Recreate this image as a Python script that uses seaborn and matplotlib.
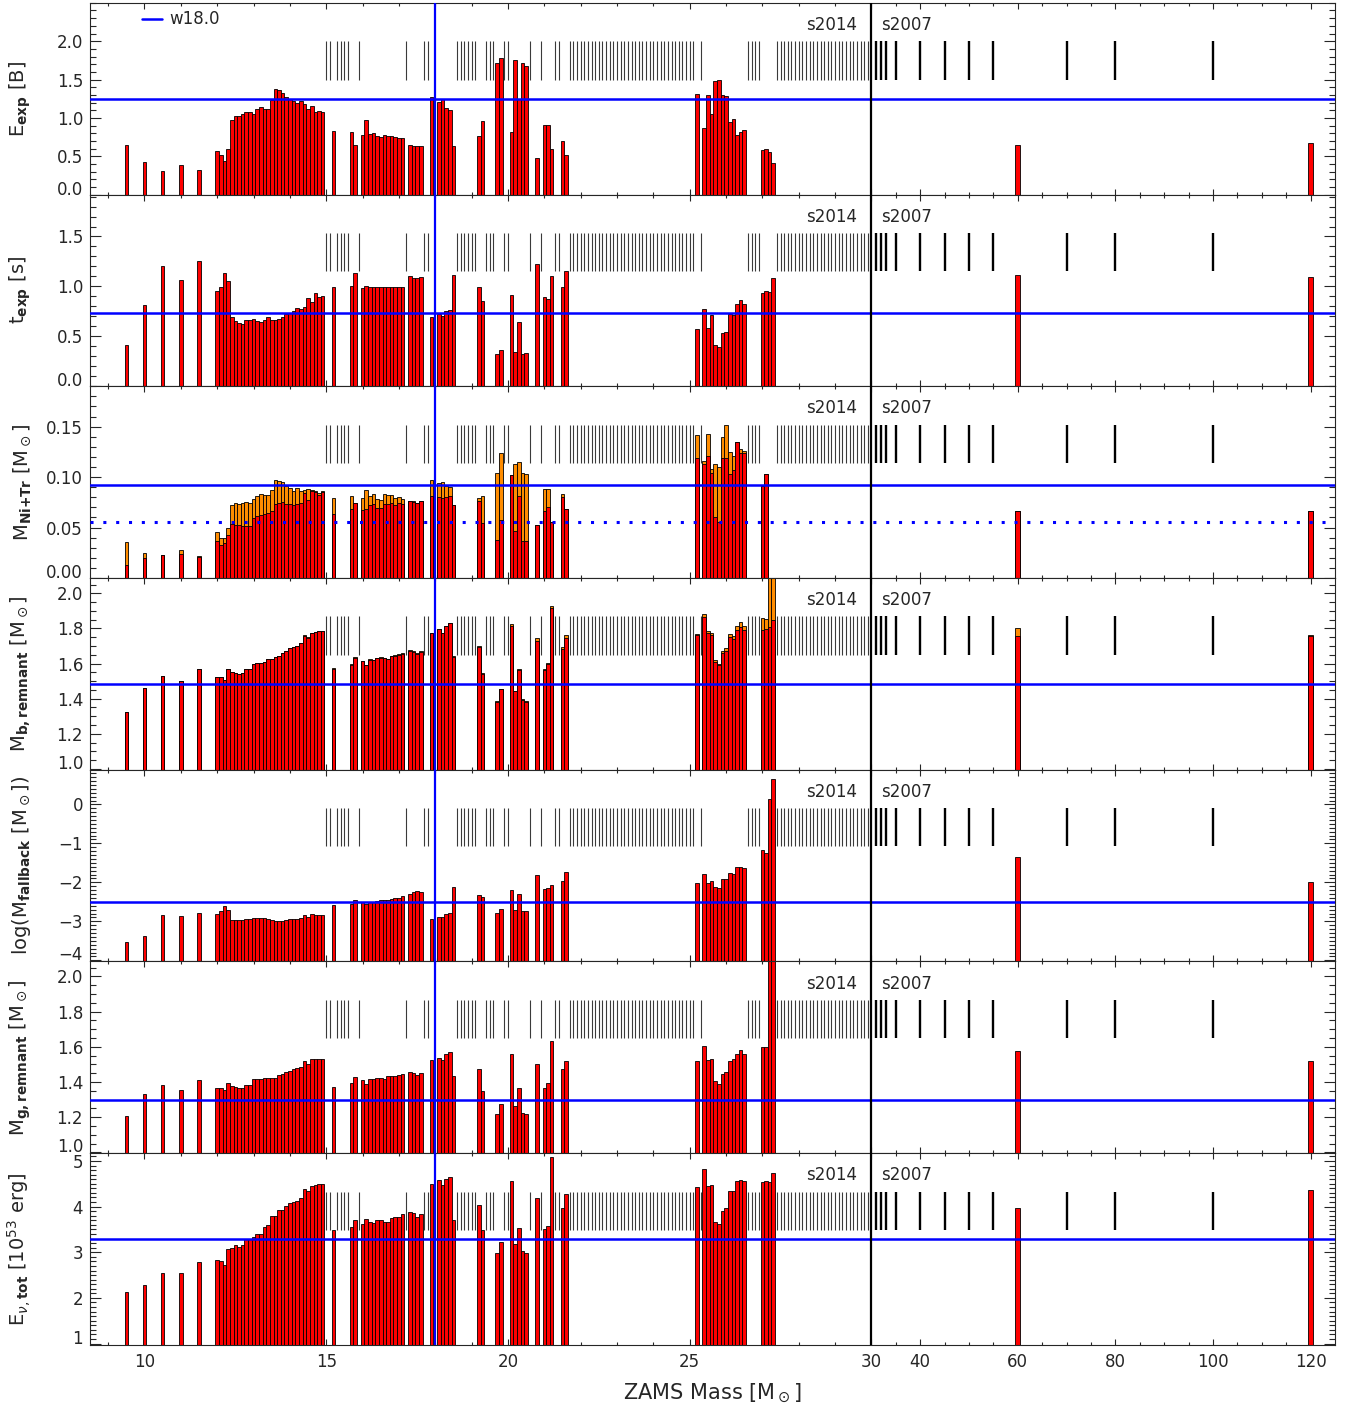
import numpy as np
import matplotlib
matplotlib.use('Agg')
import matplotlib.pyplot as plt
from matplotlib.ticker import FixedLocator, FormatStrFormatter, ScalarFormatter
import seaborn as sns

# exploding models (s2014 + low-mass + s2007)
mass = [9.5, 10.0, 10.5, 11.0, 11.5,
        12.0, 12.1, 12.2, 12.3, 12.4, 12.5, 12.6, 12.7, 12.8, 12.9,
        13.0, 13.1, 13.2, 13.3, 13.4, 13.5, 13.6, 13.7, 13.8, 13.9,
        14.0, 14.1, 14.2, 14.3, 14.4, 14.5, 14.6, 14.7, 14.8, 14.9,
        15.2, 15.7, 15.8,
        16.0, 16.1, 16.2, 16.3, 16.4, 16.5, 16.6, 16.7, 16.8, 16.9, 17.0, 17.1,
        17.3, 17.4, 17.5, 17.6,
        17.9, 18.1, 18.2, 18.3, 18.4, 18.5,
        19.2, 19.3, 19.7, 19.8,
        20.1, 20.2, 20.3, 20.4, 20.5, 20.8, 21.0, 21.1, 21.2, 21.5, 21.6,
        25.2, 25.4, 25.5, 25.6, 25.7, 25.8, 25.9, 26.0, 26.1, 26.2, 26.3, 26.4, 26.5,
        27.0, 27.1, 27.2, 27.3,
        60.0, 120.0]

e_exp = [0.65, 0.42, 0.31, 0.38, 0.32,
         0.57, 0.52, 0.44, 0.60, 0.97, 1.03, 1.02, 1.05, 1.08, 1.07,
         1.05, 1.11, 1.14, 1.12, 1.12, 1.23, 1.38, 1.36, 1.33, 1.27,
         1.24, 1.22, 1.20, 1.22, 1.18, 1.12, 1.16, 1.07, 1.09, 1.07,
         0.83, 0.81, 0.65,
         0.78, 0.97, 0.79, 0.80, 0.77, 0.75, 0.78, 0.77, 0.76, 0.75, 0.74, 0.74,
         0.65, 0.63, 0.63, 0.63,
         1.27, 1.21, 1.25, 1.13, 1.10, 0.63,
         0.77, 0.96, 1.71, 1.78,
         0.82, 1.76, 1.25, 1.71, 1.68, 0.48, 0.91, 0.91, 0.59, 0.70, 0.52,
         1.31, 0.87, 1.30, 1.05, 1.48, 1.49, 1.30, 1.28, 0.94, 0.99, 0.78, 0.82, 0.84,
         0.58, 0.60, 0.55, 0.41,
         0.65, 0.67]

t_exp = [0.41, 0.81, 1.20, 1.06, 1.25,
         0.95, 0.99, 1.13, 1.05, 0.69, 0.65, 0.63, 0.62, 0.66, 0.66,
         0.67, 0.65, 0.64, 0.66, 0.69, 0.66, 0.66, 0.67, 0.69, 0.72,
         0.73, 0.75, 0.78, 0.77, 0.79, 0.88, 0.84, 0.93, 0.89, 0.90,
         0.99, 1.00, 1.13,
         0.98, 1.00, 0.99, 0.99, 0.99, 0.99, 0.99, 0.99, 0.99, 0.99, 0.99, 0.99,
         1.10, 1.08, 1.08, 1.09,
         0.69, 0.72, 0.70, 0.75, 0.76, 1.11,
         0.99, 0.85, 0.32, 0.36,
         0.91, 0.34, 0.64, 0.32, 0.33, 1.22, 0.89, 0.87, 1.10, 0.99, 1.15,
         0.57, 0.77, 0.58, 0.71, 0.41, 0.39, 0.53, 0.54, 0.72, 0.71, 0.82, 0.86, 0.82,
         0.93, 0.95, 0.94, 1.08,
         1.11, 1.09]

m_ni = [0.013, 0.020, 0.023, 0.024, 0.021,
        0.037, 0.033, 0.035, 0.043, 0.054, 0.053, 0.053, 0.052, 0.052, 0.052,
        0.059, 0.061, 0.062, 0.063, 0.064, 0.066, 0.073, 0.074, 0.075, 0.073,
        0.073, 0.072, 0.073, 0.074, 0.084, 0.077, 0.086, 0.085, 0.082, 0.085,
        0.063, 0.068, 0.074,
        0.067, 0.068, 0.072, 0.073, 0.069, 0.069, 0.073, 0.073, 0.074, 0.072, 0.074, 0.073,
        0.076, 0.075, 0.074, 0.076,
        0.081, 0.080, 0.079, 0.080, 0.081, 0.072,
        0.076, 0.055, 0.038, 0.057,
        0.102, 0.047, 0.081, 0.037, 0.037, 0.053, 0.066, 0.070, 0.056, 0.080, 0.068,
        0.119, 0.113, 0.121, 0.104, 0.060, 0.056, 0.119, 0.119, 0.103, 0.107, 0.135, 0.124, 0.124,
        0.091, 0.103, 0.0, 0.0,
        0.066, 0.066]

m_nitr = [0.036, 0.025, 0.023, 0.028, 0.022,
          0.046, 0.040, 0.040, 0.050, 0.072, 0.074, 0.073, 0.074, 0.075, 0.074,
          0.078, 0.081, 0.083, 0.082, 0.082, 0.087, 0.097, 0.096, 0.095, 0.091,
          0.089, 0.086, 0.089, 0.086, 0.087, 0.088, 0.087, 0.086, 0.084, 0.086,
          0.079, 0.081, 0.074,
          0.079, 0.087, 0.081, 0.083, 0.078, 0.077, 0.083, 0.082, 0.082, 0.079, 0.080, 0.078,
          0.076, 0.076, 0.074, 0.076,
          0.097, 0.094, 0.095, 0.091, 0.090, 0.072,
          0.079, 0.081, 0.104, 0.124,
          0.102, 0.113, 0.115, 0.104, 0.103, 0.053, 0.088, 0.088, 0.056, 0.083, 0.068,
          0.142, 0.116, 0.143, 0.108, 0.113, 0.110, 0.140, 0.152, 0.125, 0.121, 0.135, 0.128, 0.126,
          0.091, 0.103, 0.0, 0.0,
          0.066, 0.066]

mb_rem = [1.324, 1.460, 1.528, 1.498, 1.566,
          1.521, 1.523, 1.506, 1.568, 1.549, 1.547, 1.542, 1.545, 1.568, 1.568,
          1.597, 1.602, 1.602, 1.606, 1.623, 1.623, 1.638, 1.642, 1.661, 1.669,
          1.688, 1.695, 1.701, 1.718, 1.759, 1.748, 1.775, 1.780, 1.784, 1.784,
          1.570, 1.593, 1.633,
          1.614, 1.591, 1.621, 1.619, 1.629, 1.633, 1.629, 1.623, 1.640, 1.644, 1.648, 1.657,
          1.672, 1.665, 1.652, 1.663,
          1.773, 1.795, 1.773, 1.814, 1.828, 1.636,
          1.695, 1.542, 1.383, 1.455,
          1.816, 1.443, 1.563, 1.394, 1.383, 1.730, 1.563, 1.597, 1.917, 1.685, 1.745,
          1.760, 1.867, 1.773, 1.761, 1.610, 1.591, 1.659, 1.674, 1.750, 1.740, 1.790, 1.810, 1.790,
          1.792, 1.799, 1.807, 1.848,
          1.755, 1.755]

lg_fb = [-3.52, -3.38, -2.85, -2.86, -2.79,
         -2.80, -2.74, -2.61, -2.71, -2.97, -2.97, -2.97, -2.97, -2.93, -2.93,
         -2.91, -2.91, -2.92, -2.92, -2.94, -2.96, -2.98, -2.98, -2.98, -2.97,
         -2.95, -2.93, -2.93, -2.91, -2.83, -2.88, -2.80, -2.85, -2.84, -2.83,
         -2.57, -2.55, -2.45,
         -2.50, -2.56, -2.50, -2.50, -2.48, -2.46, -2.45, -2.45, -2.43, -2.40, -2.39, -2.35,
         -2.30, -2.26, -2.22, -2.25,
         -2.93, -2.89, -2.88, -2.80, -2.79, -2.12,
         -2.32, -2.38, -2.79, -2.68,
         -2.19, -2.72, -2.29, -2.74, -2.74, -1.81, -2.17, -2.14, -2.06, -1.96, -1.74,
         -2.02, -1.79, -2.02, -1.96, -2.11, -2.15, -1.91, -1.91, -1.76, -1.79, -1.61, -1.60, -1.64,
         -1.18, -1.25, 0.15, 0.65,
         -1.34, -2.00]

mg_rem = [1.204, 1.333, 1.385, 1.354, 1.409,
          1.364, 1.368, 1.352, 1.396, 1.375, 1.369, 1.368, 1.368, 1.385, 1.385,
          1.415, 1.415, 1.415, 1.425, 1.423, 1.423, 1.425, 1.440, 1.447, 1.455,
          1.464, 1.472, 1.480, 1.487, 1.518, 1.504, 1.529, 1.531, 1.533, 1.533,
          1.373, 1.394, 1.426,
          1.413, 1.388, 1.419, 1.419, 1.425, 1.425, 1.419, 1.432, 1.432, 1.436, 1.440, 1.443,
          1.455, 1.449, 1.442, 1.449,
          1.523, 1.538, 1.525, 1.557, 1.569, 1.432,
          1.472, 1.347, 1.216, 1.276,
          1.561, 1.263, 1.368, 1.225, 1.216, 1.504, 1.368, 1.396, 1.633, 1.472, 1.518,
          1.521, 1.607, 1.527, 1.531, 1.405, 1.390, 1.447, 1.455, 1.518, 1.530, 1.560, 1.580, 1.557,
          1.601, 1.601, 2.9, 5.9,
          1.577, 1.52]

e_nu = [2.13, 2.28, 2.55, 2.55, 2.78,
        2.82, 2.81, 2.73, 3.07, 3.09, 3.15, 3.11, 3.15, 3.28, 3.28,
        3.33, 3.39, 3.40, 3.56, 3.60, 3.79, 3.80, 3.92, 3.93, 4.02,
        4.08, 4.10, 4.13, 4.19, 4.39, 4.35, 4.45, 4.48, 4.49, 4.49,
        3.49, 3.56, 3.70,
        3.63, 3.73, 3.67, 3.65, 3.70, 3.71, 3.67, 3.67, 3.75, 3.77, 3.78, 3.83,
        3.89, 3.85, 3.78, 3.84,
        4.49, 4.58, 4.48, 4.61, 4.64, 3.70,
        4.04, 3.48, 2.98, 3.23,
        4.57, 3.18, 3.53, 3.03, 2.98, 4.19, 3.50, 3.58, 5.09, 3.98, 4.28,
        4.44, 4.82, 4.46, 4.48, 3.67, 3.62, 3.90, 3.96, 4.35, 4.35, 4.57, 4.59, 4.57,
        4.54, 4.57, 4.55, 4.73,
        3.98, 4.36]

# models that did not explode
bh_s2014 = [15.0, 15.1, 15.3, 15.4, 15.5, 15.6, 15.9, 17.2, 17.7, 17.8,
            18.6, 18.7, 18.8, 18.9, 19.0, 19.1, 19.4, 19.5, 19.6, 19.9, 20.0,
            20.6, 20.9, 21.3, 21.4,
            21.7, 21.8, 21.9, 22.0, 22.1, 22.2, 22.3, 22.4, 22.5, 22.6, 22.7, 22.8, 22.9,
            23.0, 23.1, 23.2, 23.3, 23.4, 23.5, 23.6, 23.7, 23.8, 23.9,
            24.0, 24.1, 24.2, 24.3, 24.4, 24.5, 24.6, 24.7, 24.8, 24.9, 25.0, 25.1,
            25.3, 26.6, 26.7, 26.8, 26.9,
            27.4, 27.5, 27.6, 27.7, 27.8, 27.9, 28.0, 28.1, 28.2, 28.3, 28.4, 28.5,
            28.6, 28.7, 28.8, 28.9, 29.0, 29.1, 29.2, 29.3, 29.4, 29.5, 29.6, 29.7,
            29.8, 29.9]
bh_s2007 = [31, 32, 33, 35, 40, 45, 50, 55, 70, 80, 100]

# w18.0 reference values
w18 = [1.25, 0.73, 0.092, 1.483, -2.51, 1.30, 3.29]
w18_ni = 0.056

for arr in (e_exp, t_exp, m_ni, m_nitr, mb_rem, lg_fb, mg_rem, e_nu):
    assert len(arr) == len(mass)

SQUEEZE = 4.867 / 36.25


def fwd(m):
    m = np.asarray(m, dtype=float)
    return np.where(m <= 30, m, 30 + (m - 30) * SQUEEZE)


def inv(x):
    x = np.asarray(x, dtype=float)
    return np.where(x <= 30, x, 30 + (x - 30) / SQUEEZE)


sns.set_style('ticks')
plt.rcParams['font.family'] = ['DejaVu Sans']
plt.rcParams['mathtext.fontset'] = 'dejavusans'

RED = '#FF0000'
ORANGE = '#FF8C00'
BLUE = '#0000FF'

x = np.array(mass)
widths = np.where(x <= 30, 0.1, 1.0)
fb_mass = 10 ** np.array(lg_fb)
mb_total = np.array(mb_rem) + fb_mass

panels = [
    dict(red=e_exp, label=r'E$_{\mathbf{exp}}$ [B]', ylim=(0, 2.5), base=0.0,
         major=[0, 0.5, 1.0, 1.5, 2.0], minor=0.1, fmt='%.1f'),
    dict(red=t_exp, label=r't$_{\mathbf{exp}}$ [s]', ylim=(0, 1.92), base=0.0,
         major=[0, 0.5, 1.0, 1.5], minor=0.1, fmt='%.1f'),
    dict(red=m_ni, top=m_nitr, label=r'M$_{\mathbf{Ni{+}Tr}}$ [M$_\odot$]', ylim=(0, 0.19), base=0.0,
         major=[0, 0.05, 0.10, 0.15], minor=0.01, fmt='%.2f'),
    dict(red=mb_rem, top=mb_total, label=r'M$_{\mathbf{b,remnant}}$ [M$_\odot$]', ylim=(0.995, 2.087),
         base=0.9, major=[1.0, 1.2, 1.4, 1.6, 1.8, 2.0], minor=0.05, fmt='%.1f'),
    dict(red=lg_fb, label=r'log(M$_{\mathbf{fallback}}$ [M$_\odot$])', ylim=(-4.03, 0.89), base=-5.0,
         major=[-4, -3, -2, -1, 0], minor=0.1, fmt=None),
    dict(red=mg_rem, label=r'M$_{\mathbf{g,remnant}}$ [M$_\odot$]', ylim=(0.995, 2.085), base=0.9,
         major=[1.0, 1.2, 1.4, 1.6, 1.8, 2.0], minor=0.05, fmt='%.1f'),
    dict(red=e_nu, label=r'E$_{\nu,\mathbf{tot}}$ [10$^{53}$ erg]', ylim=(0.97, 5.17), base=0.5,
         major=[1, 2, 3, 4, 5], minor=0.1, fmt=None),
]

fig, axes = plt.subplots(7, 1, sharex=True, figsize=(13.51, 14.12), dpi=100)
fig.subplots_adjust(left=0.0666, right=0.9882, top=0.998, bottom=0.0475, hspace=0)

xmajor = [10, 15, 20, 25, 30, 40, 60, 80, 100, 120]
xminor = [m for m in list(range(9, 30)) + list(range(35, 125, 5)) if m not in xmajor]

for i, (ax, p) in enumerate(zip(axes, panels)):
    ax.set_xscale('function', functions=(fwd, inv))
    base = p['base']
    if 'top' in p:
        top = np.array(p['top'])
        ax.bar(x, top - base, bottom=base, width=widths, color=ORANGE,
               edgecolor='black', linewidth=0.6, zorder=2)
    red = np.array(p['red'])
    ax.bar(x, red - base, bottom=base, width=widths, color=RED,
           edgecolor='black', linewidth=0.6, zorder=2)

    xt = ax.get_xaxis_transform()
    ax.vlines(bh_s2014, 0.6, 0.8, transform=xt, colors='#3a3a3a', linewidth=0.8, zorder=3)
    ax.vlines(bh_s2007, 0.6, 0.8, transform=xt, colors='black', linewidth=1.7, zorder=3)
    ax.text(29.6, 0.885, 's2014', transform=xt, ha='right', va='center', fontsize=12)
    ax.text(32.0, 0.885, 's2007', transform=xt, ha='left', va='center', fontsize=12)

    ax.axhline(w18[i], color=BLUE, linewidth=1.8, zorder=4, label='w18.0')
    if i == 2:
        ax.axhline(w18_ni, color=BLUE, linewidth=2.2, linestyle=(0, (1.0, 3.2)), zorder=4)
    ax.axvline(18.0, color=BLUE, linewidth=1.6, zorder=5)
    ax.axvline(30.0, color='black', linewidth=1.6, zorder=5)

    ax.set_ylim(*p['ylim'])
    ax.set_yticks(p['major'])
    lo, hi = p['ylim']
    step = p['minor']
    n0 = int(np.ceil(lo / step - 1e-6))
    n1 = int(np.floor(hi / step + 1e-6))
    ax.yaxis.set_minor_locator(FixedLocator([k * step for k in range(n0, n1 + 1)]))
    if p['fmt']:
        ax.yaxis.set_major_formatter(FormatStrFormatter(p['fmt']))
    else:
        ax.yaxis.set_major_formatter(ScalarFormatter())

    ax.set_xlim(8.5, 125)
    ax.set_xticks(xmajor)
    ax.xaxis.set_minor_locator(FixedLocator(xminor))
    ax.set_xticklabels([str(v) for v in xmajor])

    ax.tick_params(axis='y', which='major', direction='in', length=8, width=0.8,
                   left=True, right=True, labelsize=12, pad=5)
    ax.tick_params(axis='y', which='minor', direction='in', length=4.3, width=0.8,
                   left=True, right=True)
    ax.tick_params(axis='x', which='major', direction='in', length=4, width=0.8,
                   top=True, bottom=True, labelsize=12, pad=6)
    ax.tick_params(axis='x', which='minor', direction='in', length=2.5, width=0.8,
                   top=True, bottom=True)
    for s in ax.spines.values():
        s.set_linewidth(0.8)
        s.set_visible(True)

    ax.set_ylabel(p['label'], fontsize=14)
    ax.yaxis.set_label_coords(-0.046, 0.5)

    labels = ax.get_yticklabels()
    if labels:
        labels[0].set_verticalalignment('baseline')

    if i == 0:
        ax.legend(loc='upper left', bbox_to_anchor=(0.042, 0.96), frameon=False,
                  handlelength=1.2, handletextpad=0.4, fontsize=12,
                  borderaxespad=0, borderpad=0)

for ax in axes[:-1]:
    ax.tick_params(axis='x', labelbottom=False)

axes[-1].set_xlabel(r'ZAMS Mass [M$_\odot$]', fontsize=15, labelpad=8)

fig.savefig('out.png', dpi=100, facecolor='white')
